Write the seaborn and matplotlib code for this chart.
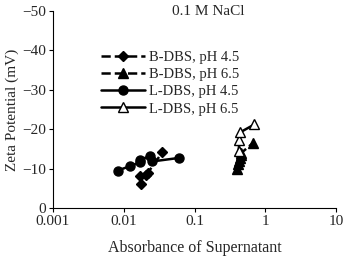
import matplotlib
matplotlib.use("Agg")
import matplotlib.pyplot as plt
import seaborn as sns
import pandas as pd

sns.set_theme(style="ticks")
plt.rcParams['font.family'] = ['Liberation Serif', 'DejaVu Serif']
plt.rcParams['axes.unicode_minus'] = True

b45_x = [0.0175, 0.0168, 0.0205, 0.022, 0.035]
b45_y = [-6.2, -8.0, -8.4, -9.0, -14.1]
b65_x = [0.40, 0.41, 0.43, 0.44, 0.45, 0.46, 0.66]
b65_y = [-10.0, -11.2, -12.0, -12.7, -13.4, -14.0, -16.4]
l45_x = [0.0082, 0.0122, 0.0168, 0.0172, 0.0238, 0.025, 0.06]
l45_y = [-9.5, -10.6, -11.6, -12.2, -13.3, -11.8, -12.7]
l65_x = [0.42, 0.43, 0.44, 0.70]
l65_y = [-14.4, -17.3, -19.2, -21.2]

series = [
    ("B-DBS, pH 4.5", b45_x, b45_y, "D", "black", "--"),
    ("B-DBS, pH 6.5", b65_x, b65_y, "^", "black", "--"),
    ("L-DBS, pH 4.5", l45_x, l45_y, "o", "black", "-"),
    ("L-DBS, pH 6.5", l65_x, l65_y, "^", "white", "-"),
]

fig = plt.figure(figsize=(3.44, 2.58), dpi=100)
ax = fig.add_axes([0.154, 0.194, 0.823, 0.763])

for label, xs, ys, mk, fc, ls in series:
    df = pd.DataFrame({"x": xs, "y": ys})
    ms = 5.5 if mk == "D" else 6.5
    sns.lineplot(data=df, x="x", y="y", sort=False, ax=ax, color="black",
                 linestyle=ls, linewidth=1.8, marker=mk, markersize=ms,
                 markerfacecolor=fc, markeredgecolor="black", markeredgewidth=1.0,
                 label=label)

ax.set_xscale("log")
ax.set_xlim(0.001, 10)
ax.set_ylim(0, -50)
ax.set_xticks([0.001, 0.01, 0.1, 1, 10])
ax.set_xticklabels(["0.001", "0.01", "0.1", "1", "10"])
ax.minorticks_off()
ax.set_yticks([0, -10, -20, -30, -40, -50])
ax.set_yticklabels(["0", "\u221210", "\u221220", "\u221230", "\u221240", "\u221250"])
ax.tick_params(labelsize=11, length=3, width=0.8, color="black", pad=2)
for s in ["top", "right"]:
    ax.spines[s].set_visible(False)
for s in ["left", "bottom"]:
    ax.spines[s].set_color("black")
    ax.spines[s].set_linewidth(0.8)
ax.set_xlabel("Absorbance of Supernatant", fontsize=11.5, labelpad=9)
ax.set_ylabel("Zeta Potential (mV)", fontsize=11, labelpad=2)
ax.text(0.55, 1.0, "0.1 M NaCl", transform=ax.transAxes, ha="center", va="center", fontsize=11)

leg = ax.legend(loc="upper left", bbox_to_anchor=(0.145, 0.835), frameon=False, fontsize=10.5,
                handlelength=3.0, handletextpad=0.25, labelspacing=0.27, borderpad=0)
fig.savefig("out.png", dpi=100)
